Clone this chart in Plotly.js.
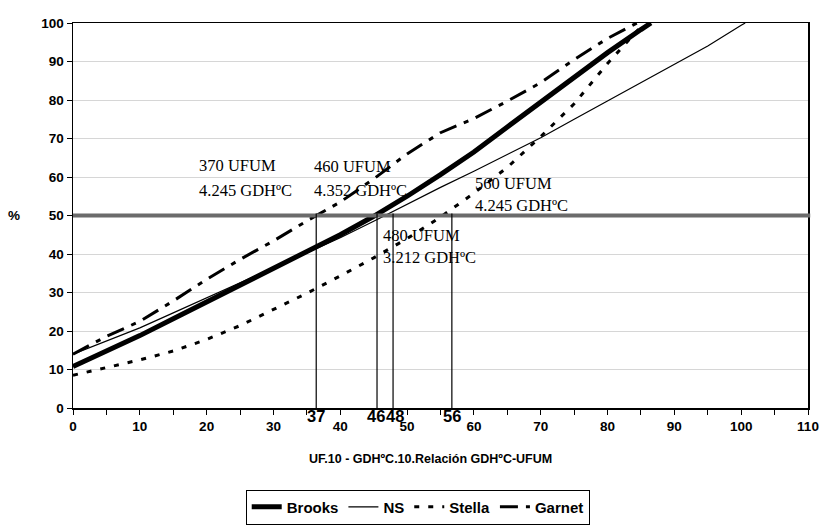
<!DOCTYPE html>
<html>
<head>
<meta charset="utf-8">
<script src="https://cdn.plot.ly/plotly-3.0.1.min.js"></script>
<style>html,body{margin:0;padding:0;background:#fff;}#chart{width:823px;height:526px;}</style>
</head>
<body>
<div id="chart"></div>
<script>
// ---- data ----
const brooksX = [0,5,10,15,20,25,30,35,40,45,50,55,60,65,70,75,80,85,86.5];
const brooksY = [10.8,14.7,18.8,23.2,27.6,32,36.5,40.6,45,49.8,55,60.6,66.5,73,79.5,85.8,92.3,98.3,100];

const nsX = [0,5,10,15,20,25,30,35,40,45,50,55,60,65,70,75,80,85,90,95,100,100.6];
const nsY = [14,17.3,20.8,24.7,28.6,32.5,36.3,40.2,44.2,48.5,53,57.3,61.5,65.8,70.2,75,79.8,84.5,89.2,94,99.4,100];

const stellaX = [0,5,10,15,20,25,30,35,40,45,50,55,60,65,70,75,80,85.5];
const stellaY = [8.5,10.5,12.5,14.8,17.8,21.4,25.6,29.8,34.3,39,44,49.6,55.8,62.5,70.5,79,89.5,100];

const garnetX = [0,5,10,15,20,25,30,35,40,45,50,55,60,65,70,75,80,84.4];
const garnetY = [14,18.6,22.5,27.8,33.4,38.6,43.4,48.6,53.5,59.5,66,71.5,75.2,79.7,84.5,90.5,96,100];

const seriesNames = ["Brooks","NS","Stella","Garnet"];

const threshold = 50;
const markX = [36.4, 45.5, 47.9, 56.7];
const markLabels = ["37","46","48","56"];

const noteLine1 = ["370 UFUM","460 UFUM","480 UFUM","560 UFUM"];
const noteLine2 = ["4.245 GDHºC","4.352 GDHºC","3.212 GDHºC","4.245 GDHºC"];

const xTitle = "UF.10 - GDHºC.10.Relación GDHºC-UFUM";
const yTitle = "%";

// ---- styling ----
const sans = "Liberation Sans, Arial, sans-serif";
const serif = "Liberation Serif, Times New Roman, serif";

const traces = [
  {x: brooksX, y: brooksY, name: seriesNames[0], mode: "lines", line: {color: "#000", width: 5}},
  {x: nsX, y: nsY, name: seriesNames[1], mode: "lines", line: {color: "#000", width: 1.2}},
  {x: stellaX, y: stellaY, name: seriesNames[2], mode: "lines", line: {color: "#000", width: 3, dash: "5px,9px"}},
  {x: garnetX, y: garnetY, name: seriesNames[3], mode: "lines", line: {color: "#000", width: 3, dash: "18px,8px,5px,8px"}}
];

const shapes = [
  {type: "line", xref: "paper", yref: "y", x0: 0, x1: 1.003, y0: threshold, y1: threshold,
   line: {color: "#6b6b6b", width: 4}, layer: "above"}
];
markX.forEach(v => shapes.push({type: "line", xref: "x", yref: "y", x0: v, x1: v, y0: 0, y1: threshold + 0.5,
   line: {color: "#000", width: 1.2}}));

// annotation anchor points (data coords)
const notePos = [[18.6, 62.9, 56.4],[35.8, 62.7, 56.4],[46.1, 44.9, 39.2],[59.9, 58.2, 52.5]];

const annotations = [];
noteLine1.forEach((t, i) => {
  annotations.push({x: notePos[i][0], y: notePos[i][1], xref: "x", yref: "y", text: t, showarrow: false,
    xanchor: "left", yanchor: "middle", font: {family: serif, size: 16.5, color: "#000"}});
  annotations.push({x: notePos[i][0], y: notePos[i][2], xref: "x", yref: "y", text: noteLine2[i], showarrow: false,
    xanchor: "left", yanchor: "middle", font: {family: serif, size: 16.5, color: "#000"}});
});
const markShift = [0, -1.5, 1.5, 0];
markLabels.forEach((t, i) => {
  annotations.push({x: markX[i], y: -0.02, xref: "x", yref: "paper", text: t, showarrow: false,
    xshift: markShift[i],
    xanchor: "center", yanchor: "middle", font: {family: sans, size: 16.5, weight: "bold", color: "#000"}});
});
annotations.push({x: 0.486, y: -0.132, xref: "paper", yref: "paper", text: xTitle, showarrow: false,
  xanchor: "center", yanchor: "middle", font: {family: sans, size: 12.5, weight: "bold", color: "#000"}});
annotations.push({x: -0.08, y: threshold, xref: "paper", yref: "y", text: yTitle, showarrow: false,
  xanchor: "center", yanchor: "middle", font: {family: sans, size: 13.5, weight: "bold", color: "#000"}});

const layout = {
  width: 823, height: 526,
  margin: {l: 73, r: 15, t: 23, b: 118, autoexpand: false},
  paper_bgcolor: "#fff", plot_bgcolor: "#fff",
  showlegend: true,
  legend: {orientation: "h", x: 0.469, xanchor: "center", y: -0.212, yanchor: "top",
    bgcolor: "#fff", bordercolor: "#000", borderwidth: 1, tracegroupgap: 0,
    font: {family: sans, size: 15, weight: "bold", color: "#000"}},
  xaxis: {range: [0, 110], dtick: 10, tick0: 0, showgrid: false, zeroline: false,
    showline: true, linecolor: "#000", linewidth: 1.5, mirror: true,
    ticks: "outside", ticklen: 5, tickcolor: "#000",
    minor: {dtick: 5, ticks: "outside", ticklen: 5, tickcolor: "#000", showgrid: false},
    tickfont: {family: sans, size: 13.5, weight: "bold", color: "#000"}},
  yaxis: {range: [0, 100], dtick: 10, tick0: 0, showgrid: true, gridcolor: "#d6d6d6", gridwidth: 1,
    zeroline: false, showline: true, linecolor: "#000", linewidth: 1.5, mirror: true,
    ticks: "outside", ticklen: 5, tickcolor: "#000",
    tickfont: {family: sans, size: 13.5, weight: "bold", color: "#000"}},
  shapes: shapes,
  annotations: annotations
};

Plotly.newPlot("chart", traces, layout, {displayModeBar: false, staticPlot: true});
</script>
</body>
</html>
